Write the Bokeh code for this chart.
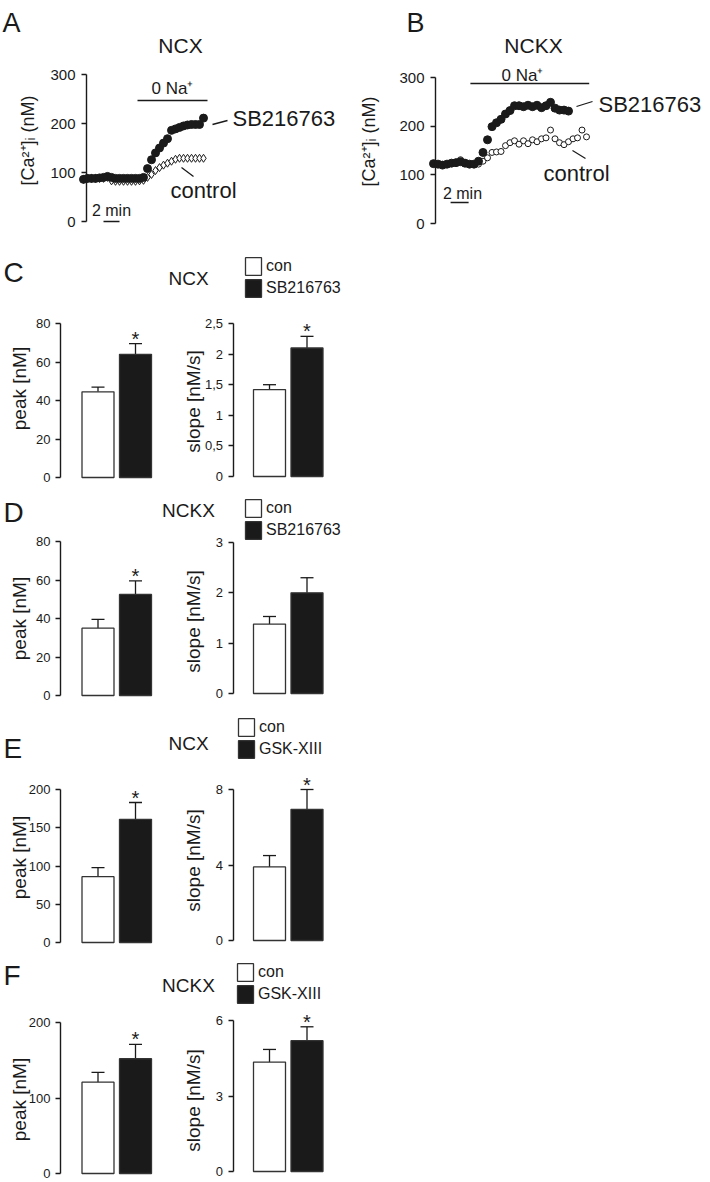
import math
from bokeh.plotting import figure
from bokeh.models import (Range1d, LinearAxis, FixedTicker, ColumnDataSource,
                          Whisker, TeeHead, Legend, LegendItem, CustomJSTickFormatter)
from bokeh.layouts import column, row
from bokeh.embed import file_html
from bokeh.resources import INLINE
from bokeh.core.properties import value

# ------------------------------------------------------------------ data
# Panel A (NCX traces), time in min, [Ca2+]i in nM
time_ncx = [0, 0.5, 1, 1.5, 2, 2.5, 3, 3.5, 4, 4.5, 5, 5.5, 6, 6.5, 7, 7.5,
            8, 8.5, 9, 9.5, 10, 10.5, 11, 11.5, 12, 12.5, 13, 13.5, 14, 14.5, 15]
ncx_sb = [86, 88, 88, 88, 89, 90, 92, 90, 88, 88, 88, 88, 88, 88, 88, 90,
          108, 126, 140, 150, 160, 169, 186, 189, 192, 195, 197, 198, 198, 198, 211]
ncx_con = [86, 88, 88, 88, 88, 88, 90, 83, 82, 82, 82, 82, 82, 82, 83, 84,
           90, 96, 104, 110, 115, 119, 123, 127, 129, 129, 129, 129, 129, 129, 129]

# Panel B (NCKX traces)
time_nckx_sb = [0, 0.5, 1, 1.5, 2, 2.5, 3, 3.5, 4, 4.5, 5, 5.5, 6, 6.5, 7, 7.5,
                8, 8.5, 9, 9.5, 10, 10.5, 11, 11.5, 12, 12.5, 13, 13.5, 14, 14.5, 15]
nckx_sb = [123, 122, 120, 122, 124, 125, 127, 124, 122, 122, 128, 146, 172, 199, 207, 214,
           225, 232, 242, 242, 240, 243, 240, 243, 238, 242, 249, 237, 233, 233, 231]
time_nckx_con = [0, 0.5, 1, 1.5, 2, 2.5, 3, 3.5, 4, 4.5, 5, 5.5, 6, 6.5, 7, 7.5,
                 8, 8.5, 9, 9.5, 10, 10.5, 11, 11.5, 12, 12.5, 13, 13.5, 14, 14.5,
                 15, 15.5, 16, 16.5, 17]
nckx_con = [123, 122, 121, 122, 124, 126, 131, 125, 122, 121, 122, 128, 135, 146, 147, 148,
            160, 166, 170, 163, 170, 164, 172, 168, 174, 176, 192, 174, 166, 162,
            168, 174, 176, 192, 178]

na_free_ncx = [6.75, 15.5]     # 0 Na+ period (min)
na_free_nckx = [4.1, 17.3]
scale_bar_min = 2

# Panels C-F (bar charts): [con, treatment]
groups_sb = ["con", "SB216763"]
groups_gsk = ["con", "GSK-XIII"]

c_peak, c_peak_err = [44.5, 64.0], [2.5, 5.5]
c_slope, c_slope_err = [1.42, 2.10], [0.08, 0.19]
d_peak, d_peak_err = [35.0, 52.5], [4.5, 7.0]
d_slope, d_slope_err = [1.38, 2.0], [0.15, 0.30]
e_peak, e_peak_err = [86, 161], [12, 22]
e_slope, e_slope_err = [3.9, 6.95], [0.6, 1.05]
f_peak, f_peak_err = [121, 152], [13, 19]
f_slope, f_slope_err = [4.35, 5.2], [0.5, 0.55]

# ------------------------------------------------------------------ style
ARIAL = "Liberation Sans"
INK = "#1a1a1a"
UP = math.pi / 2


class Map:
    """linear value <-> page-pixel mapping defined by two anchors"""
    def __init__(self, v0, p0, v1, p1):
        self.v0, self.p0 = v0, p0
        self.k = (p1 - p0) / (v1 - v0)

    def v(self, p):
        return self.v0 + (p - self.p0) / self.k


def make_fig(left, top, right, bottom, xm, ym):
    p = figure(width=right - left, height=bottom - top,
               x_range=Range1d(xm.v(left), xm.v(right)),
               y_range=Range1d(ym.v(bottom), ym.v(top)),
               x_axis_type=None, y_axis_type=None, toolbar_location=None,
               output_backend="svg", min_border=0, title=None)
    p.outline_line_color = None
    p.background_fill_color = "white"
    p.border_fill_color = "white"
    return p


def y_axis(p, x_at, ticks, tick_size, standoff=6, comma=False):
    ax = LinearAxis(fixed_location=x_at, ticker=FixedTicker(ticks=ticks),
                    bounds=(ticks[0], ticks[-1]))
    ax.major_tick_in = 0
    ax.major_tick_out = 5
    ax.minor_tick_line_color = None
    ax.axis_line_color = INK
    ax.axis_line_width = 1.4
    ax.major_tick_line_color = INK
    ax.major_tick_line_width = 1.3
    ax.major_label_text_font = ARIAL
    ax.major_label_text_font_size = f"{tick_size}px"
    ax.major_label_text_color = INK
    ax.major_label_standoff = standoff
    if comma:
        ax.formatter = CustomJSTickFormatter(code="return String(tick).replace('.', ',')")
    p.add_layout(ax, "left")
    return ax


def txt(p, xm, ym, px, py, s, size, align="center", baseline="middle", angle=0.0):
    p.text(x=[xm.v(px)], y=[ym.v(py)], text=[s], text_font=value(ARIAL),
           text_font_size=f"{size}px", text_align=align, text_baseline=baseline,
           text_color=INK, angle=angle)


def seg(p, xm, ym, x0, y0, x1, y1, w=1.3):
    p.segment(x0=[xm.v(x0)], y0=[ym.v(y0)], x1=[xm.v(x1)], y1=[ym.v(y1)],
              line_color=INK, line_width=w)


# ------------------------------------------------------------------ A
xa = Map(0, 83, 1, 91)
ya = Map(0, 221, 300, 74)
pa = make_fig(0, 0, 340, 236, xa, ya)
pa.scatter(time_ncx, ncx_con, marker="diamond", size=8, fill_color="white",
           line_color=INK, line_width=1)
pa.scatter(time_ncx, ncx_sb, marker="circle", size=8, fill_color=INK, line_color=INK)
pa.segment(x0=[na_free_ncx[0]], x1=[na_free_ncx[1]], y0=[ya.v(100)], y1=[ya.v(100)],
           line_color=INK, line_width=1.5)
pa.segment(x0=[2.5], x1=[2.5 + scale_bar_min], y0=[0], y1=[0], line_color=INK, line_width=1.5)
y_axis(pa, xa.v(86), [0, 100, 200, 300], 15)
txt(pa, xa, ya, 27, 140, "[Ca²⁺]ᵢ (nM)", 18, angle=UP)
txt(pa, xa, ya, 2, 22, "A", 27, align="left")
txt(pa, xa, ya, 180, 45, "NCX", 21)
txt(pa, xa, ya, 172, 88, "0 Na⁺", 17)
txt(pa, xa, ya, 232, 118, "SB216763", 22, align="left")
seg(pa, xa, ya, 212, 124, 227, 120)
txt(pa, xa, ya, 170, 190, "control", 22, align="left")
seg(pa, xa, ya, 181, 167, 193, 176)
txt(pa, xa, ya, 111, 210, f"{scale_bar_min} min", 16)

# ------------------------------------------------------------------ B
xb = Map(0, 433, 1, 442)
yb = Map(0, 223, 300, 77)
pb = make_fig(340, 0, 710, 236, xb, yb)
pb.scatter(time_nckx_con, nckx_con, marker="circle", size=6, fill_color="white",
           line_color=INK, line_width=1)
pb.scatter(time_nckx_sb, nckx_sb, marker="circle", size=8, fill_color=INK, line_color=INK)
pb.segment(x0=[na_free_nckx[0]], x1=[na_free_nckx[1]], y0=[yb.v(83)], y1=[yb.v(83)],
           line_color=INK, line_width=1.5)
pb.segment(x0=[1.9], x1=[1.9 + scale_bar_min], y0=[yb.v(202)], y1=[yb.v(202)],
           line_color=INK, line_width=1.5)
y_axis(pb, xb.v(435), [0, 100, 200, 300], 15)
txt(pb, xb, yb, 368, 141, "[Ca²⁺]ᵢ (nM)", 18, angle=UP)
txt(pb, xb, yb, 415, 22, "B", 27)
txt(pb, xb, yb, 533, 45, "NCKX", 21)
txt(pb, xb, yb, 522, 75, "0 Na⁺", 17)
txt(pb, xb, yb, 598, 104, "SB216763", 22, align="left")
seg(pb, xb, yb, 576, 106, 592, 101)
txt(pb, xb, yb, 543, 173, "control", 22, align="left")
seg(pb, xb, yb, 572, 150, 585, 158)
txt(pb, xb, yb, 462, 193, f"{scale_bar_min} min", 16)

# ------------------------------------------------------------------ bar rows
PEAK_X = Map(0, 97.5, 1, 135)
SLOPE_X = Map(0, 269, 1, 306.5)
BAR_W = 32 / 37.5


def bar_panel(p, xm, ym, vals, errs, groups, sig, axis_px, ticks, label, label_px, label_py):
    xs = list(range(len(groups)))
    upper = [v + e for v, e in zip(vals, errs)]
    src = ColumnDataSource(dict(x=xs, top=vals, upper=upper,
                                fill=["white", INK], grp=groups))
    r = p.vbar(x="x", top="top", bottom=0, width=BAR_W, source=src,
               fill_color="fill", line_color="#333333", line_width=1.3)
    p.add_layout(Whisker(source=src, base="x", lower="top", upper="upper",
                         dimension="height", lower_head=None,
                         upper_head=TeeHead(size=13, line_width=1.3, line_color=INK),
                         line_color=INK, line_width=1.3))
    for i, s in enumerate(sig):
        if s:
            p.text(x=[xs[i]], y=[upper[i]], text=["*"], text_font=value(ARIAL),
                   text_font_size="20px", text_align="center", y_offset=-5,
                   text_baseline="alphabetic", text_color=INK)
    y_axis(p, xm.v(axis_px), ticks, 13, standoff=5, comma=True)
    txt(p, xm, ym, label_px, label_py, label, 19, angle=UP)
    return r


def bar_row(top, bottom, letter, letter_y, title, title_y, groups,
            peak, peak_err, peak_ticks, peak_zero, peak_top, peak_label_y,
            slope, slope_err, slope_ticks, slope_zero, slope_top, slope_label_y,
            sig_peak, sig_slope, legend_top, legend_x):
    ymp = Map(0, peak_zero, peak_ticks[-1], peak_top)
    yms = Map(0, slope_zero, slope_ticks[-1], slope_top)
    pp = make_fig(0, top, 160, bottom, PEAK_X, ymp)
    ps = make_fig(160, top, 710, bottom, SLOPE_X, yms)
    bar_panel(pp, PEAK_X, ymp, peak, peak_err, groups, sig_peak, 60, peak_ticks,
              "peak [nM]", 19, peak_label_y)
    rs = bar_panel(ps, SLOPE_X, yms, slope, slope_err, groups, sig_slope, 232.5, slope_ticks,
                   "slope [nM/s]", 193, slope_label_y)
    txt(pp, PEAK_X, ymp, 3, letter_y, letter, 28, align="left")
    txt(ps, SLOPE_X, yms, 188, title_y, title, 19)
    leg = Legend(items=[LegendItem(label=groups[0], renderers=[rs], index=0),
                        LegendItem(label=groups[1], renderers=[rs], index=1)],
                 location=(legend_x - 160, bottom - (legend_top + 44)),
                 orientation="vertical", glyph_width=20, glyph_height=22,
                 spacing=0, padding=0, margin=0, label_standoff=3,
                 label_height=22, label_text_font=ARIAL,
                 label_text_font_size="16px", label_text_color=INK,
                 border_line_color=None, background_fill_alpha=0)
    ps.add_layout(leg)
    return row(pp, ps)


row_c = bar_row(236, 488, "C", 272, "NCX", 278, groups_sb,
                c_peak, c_peak_err, [0, 20, 40, 60, 80], 477, 323, 388,
                c_slope, c_slope_err, [0, 0.5, 1, 1.5, 2, 2.5], 476, 323, 401,
                [False, True], [False, True], 255, 243)
row_d = bar_row(488, 705, "D", 512, "NCKX", 510, groups_sb,
                d_peak, d_peak_err, [0, 20, 40, 60, 80], 695, 541, 618,
                d_slope, d_slope_err, [0, 1, 2, 3], 693, 542, 621,
                [False, True], [False, False], 497, 243)
row_e = bar_row(705, 953, "E", 748, "NCX", 743, groups_gsk,
                e_peak, e_peak_err, [0, 50, 100, 150, 200], 942, 789, 857,
                e_slope, e_slope_err, [0, 4, 8], 940, 789, 860,
                [False, True], [False, True], 716, 236)
row_f = bar_row(953, 1182, "F", 975, "NCKX", 985, groups_gsk,
                f_peak, f_peak_err, [0, 100, 200], 1173, 1022, 1099,
                f_slope, f_slope_err, [0, 3, 6], 1171, 1020, 1100,
                [False, True], [False, True], 961, 235)

layout = column(row(pa, pb), row_c, row_d, row_e, row_f)
open("out.html", "w").write(file_html(layout, INLINE))
